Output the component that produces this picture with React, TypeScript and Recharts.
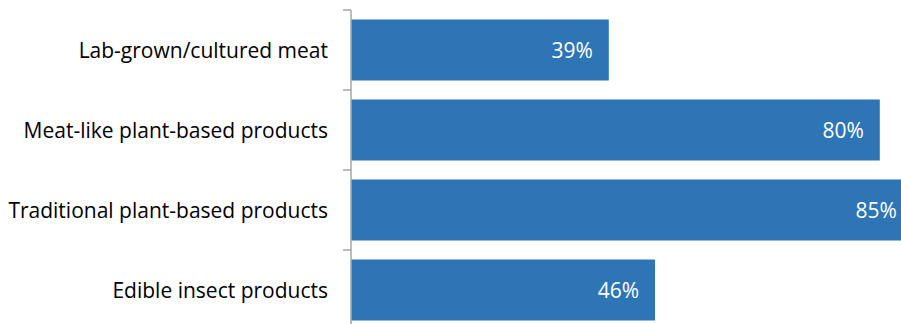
import React from 'react';
import { BarChart, Bar, XAxis, YAxis, LabelList } from 'recharts';

const categories = [
  'Lab-grown/cultured meat',
  'Meat-like plant-based products',
  'Traditional plant-based products',
  'Edible insect products',
];
const shares = [39, 80, 85, 46];

const data = categories.map((name, i) => ({ name, value: shares[i] }));

const CHART_W = 1012;
const CHART_H = 330;
const TOP = 10;
const AXIS_W = 351;
const BAND = (CHART_H - TOP) / categories.length;
const FONT = '"Open Sans", "Noto Sans", sans-serif';
const GREY = '#a6a6a6';
const BLUE = '#2e75b6';

const Tick = (props: any) => {
  const { y, payload } = props;
  const ty = y - BAND / 2;
  return (
    <g>
      <line x1={AXIS_W - 8} x2={AXIS_W} y1={ty} y2={ty} stroke={GREY} strokeWidth={1.5} />
      <text
        x={AXIS_W - 23}
        y={y}
        textAnchor="end"
        dominantBaseline="central"
        fontFamily={FONT}
        fontSize={21}
        fill="#000"
      >
        {payload.value}
      </text>
    </g>
  );
};

const ValueLabel = (props: any) => {
  const { x, y, width, height, value } = props;
  return (
    <text
      x={x + width - 16}
      y={y + height / 2}
      textAnchor="end"
      dominantBaseline="central"
      fontFamily={FONT}
      fontSize={21}
      fill="#fff"
    >
      {value}%
    </text>
  );
};

export default function App() {
  return (
    <div
      style={{
        position: 'absolute',
        left: 0,
        top: 0,
        width: 901,
        height: 324,
        overflow: 'hidden',
        background: '#fff',
      }}
    >
      <BarChart
        width={CHART_W}
        height={CHART_H}
        data={data}
        layout="vertical"
        margin={{ top: TOP, right: 0, bottom: 0, left: 0 }}
        barCategoryGap="12%"
      >
        <XAxis type="number" domain={[0, 100]} hide />
        <YAxis
          type="category"
          dataKey="name"
          width={AXIS_W}
          axisLine={{ stroke: GREY, strokeWidth: 1.5 }}
          tickLine={false}
          tick={<Tick />}
          interval={0}
        />
        <Bar dataKey="value" fill={BLUE} isAnimationActive={false}>
          <LabelList dataKey="value" content={<ValueLabel />} />
        </Bar>
      </BarChart>
    </div>
  );
}
